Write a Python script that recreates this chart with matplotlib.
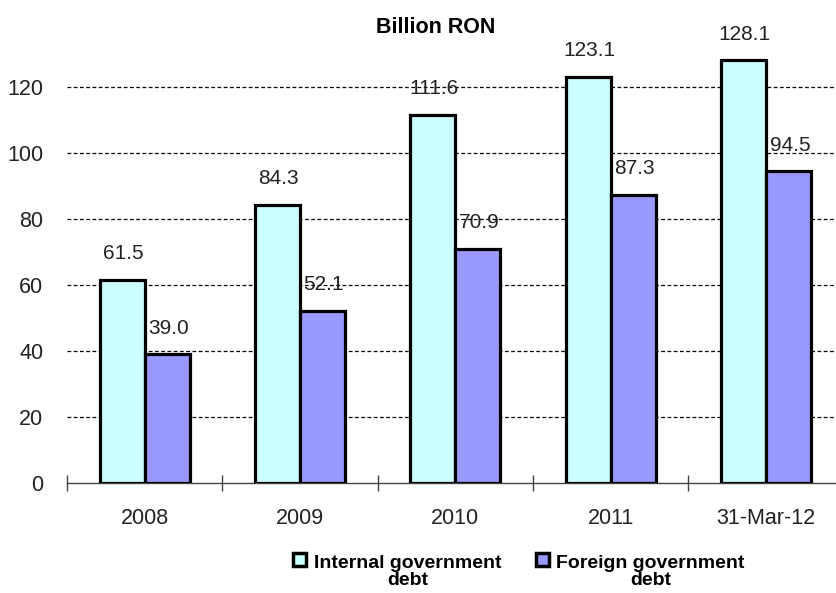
import numpy as np
import matplotlib.pyplot as plt
from matplotlib.patches import Patch, Rectangle
from matplotlib.legend_handler import HandlerPatch

plt.rcParams['font.family'] = ['Liberation Sans', 'DejaVu Sans']

# Datos (miliardi RON)
categorias = ["2008", "2009", "2010", "2011", "31-Mar-12"]
deuda_interna = [61.5, 84.3, 111.6, 123.1, 128.1]
deuda_externa = [39.0, 52.1, 70.9, 87.3, 94.5]
etiquetas_serie = ["Internal government\ndebt", "Foreign government\ndebt"]

COLOR_INT = "#CCFFFF"
COLOR_EXT = "#9999FF"

fig = plt.figure(figsize=(8.37, 5.93), dpi=100)
ax = fig.add_axes([0.08, 0.1855, 0.928, 0.779])

x = np.arange(len(categorias))
ancho = 0.29

b1 = ax.bar(x - ancho / 2, deuda_interna, ancho, color=COLOR_INT,
            edgecolor="black", linewidth=2.3, zorder=3)
b2 = ax.bar(x + ancho / 2, deuda_externa, ancho, color=COLOR_EXT,
            edgecolor="black", linewidth=2.3, zorder=3)

# etiquetas de valor
for barras, vals in ((b1, deuda_interna), (b2, deuda_externa)):
    for rect, v in zip(barras, vals):
        ax.annotate(f"{v:.1f}", (rect.get_x() + rect.get_width() / 2, v),
                    xytext=(1, 12), textcoords="offset points",
                    ha="center", va="bottom", fontsize=15, color="#222222",
                    zorder=4, annotation_clip=False)

ax.set_xlim(-0.5, len(categorias) - 0.5)
ax.set_ylim(0, 140)

# cuadrícula discontinua
for yv in range(20, 121, 20):
    ax.axhline(yv, color="black", linestyle=(0, (3, 2)), linewidth=0.9, zorder=1)

ax.set_yticks(range(0, 121, 20))
ax.tick_params(axis="y", length=0, pad=17, labelsize=15.5, labelcolor="#222222")
ax.set_xticks(x)
ax.set_xticklabels(categorias)
ax.tick_params(axis="x", which="major", length=0, pad=18, labelsize=15.5,
               labelcolor="#222222")
ax.set_xticks(np.arange(-0.5, len(categorias), 1.0), minor=True)
ax.tick_params(axis="x", which="minor", length=12, direction="inout",
               width=1.0, color="#444444")

for s in ("top", "right", "left"):
    ax.spines[s].set_visible(False)
ax.spines["bottom"].set_color("#444444")
ax.spines["bottom"].set_linewidth(1.0)

fig.text(0.52, 0.953, "Billion RON", ha="center", va="center",
         fontsize=15.5, fontweight="bold")


# cuadrado de la leyenda alineado con la primera línea del texto
def cuadro_arriba(legend, orig_handle, xdescent, ydescent, width, height, fontsize):
    return Rectangle((-xdescent, -ydescent + 0.6 * fontsize), width, height)


handles = [Patch(facecolor=COLOR_INT, edgecolor="black", linewidth=2.5),
           Patch(facecolor=COLOR_EXT, edgecolor="black", linewidth=2.5)]
leg = fig.legend(handles, etiquetas_serie, loc="lower center",
                 bbox_to_anchor=(0.62, -0.022), ncol=2, frameon=False,
                 prop={"weight": "bold", "size": 14}, handlelength=0.65,
                 handleheight=0.65, handletextpad=0.4, columnspacing=1.8,
                 handler_map={Patch: HandlerPatch(patch_func=cuadro_arriba)})
for t in leg.get_texts():
    t.set_multialignment("center")
    t.set_linespacing(1.0)

fig.savefig("out.png", dpi=100)
